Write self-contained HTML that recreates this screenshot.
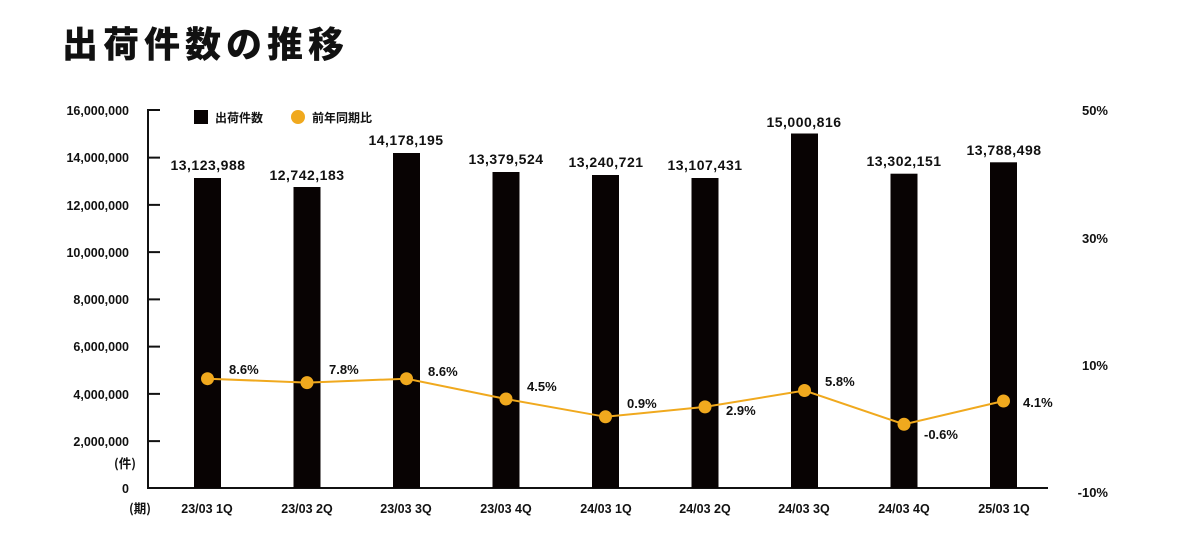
<!DOCTYPE html>
<html><head><meta charset="utf-8"><style>
body{margin:0;background:#fff;}
svg text{font-family:"Liberation Sans","Noto Sans CJK JP",sans-serif;font-weight:bold;fill:#111;}
</style></head><body>
<svg width="1200" height="532" viewBox="0 0 1200 532" xmlns="http://www.w3.org/2000/svg">
<text x="62" y="57" font-size="36" style="font-family:'Noto Sans CJK JP','Liberation Sans',sans-serif;font-weight:900" letter-spacing="5">出荷件数の推移</text>
<g font-size="12.5" text-anchor="end">
<text x="129" y="115">16,000,000</text>
<text x="129" y="162">14,000,000</text>
<text x="129" y="210">12,000,000</text>
<text x="129" y="257">10,000,000</text>
<text x="129" y="304">8,000,000</text>
<text x="129" y="351">6,000,000</text>
<text x="129" y="399">4,000,000</text>
<text x="129" y="446">2,000,000</text>
<text x="129" y="493">0</text>
<text x="136" y="468" style="font-family:'Noto Sans CJK JP',sans-serif">(件)</text>
<text x="151" y="513" style="font-family:'Noto Sans CJK JP',sans-serif">(期)</text>
</g>
<g font-size="13" text-anchor="end">
<text x="1108" y="115">50%</text>
<text x="1108" y="243">30%</text>
<text x="1108" y="370">10%</text>
<text x="1108" y="497">-10%</text>
</g>
<g stroke="#111" stroke-width="2" fill="none">
<path d="M160 110H148V488H1048"/>
<path d="M148 157.6H160M148 204.9H160M148 252.1H160M148 299.4H160M148 346.6H160M148 393.9H160M148 441.1H160"/>
</g>
<rect x="194" y="110" width="14" height="14" fill="#080303"/>
<text x="215" y="122" font-size="12" style="font-family:'Noto Sans CJK JP',sans-serif">出荷件数</text>
<circle cx="298" cy="117" r="7" fill="#f0a91e"/>
<text x="312" y="122" font-size="12" style="font-family:'Noto Sans CJK JP',sans-serif">前年同期比</text>
<g fill="#080303">
<rect x="194" y="178" width="27" height="310"/>
<rect x="293.5" y="187" width="27" height="301"/>
<rect x="393" y="153" width="27" height="335"/>
<rect x="492.5" y="172" width="27" height="316"/>
<rect x="592" y="175" width="27" height="313"/>
<rect x="691.5" y="178" width="27" height="310"/>
<rect x="791" y="133.5" width="27" height="354.5"/>
<rect x="890.5" y="173.7" width="27" height="314.3"/>
<rect x="990" y="162.3" width="27" height="325.7"/>
</g>
<g font-size="14" text-anchor="middle" letter-spacing="0.5">
<text x="208" y="170">13,123,988</text>
<text x="307" y="180">12,742,183</text>
<text x="406" y="145">14,178,195</text>
<text x="506" y="164">13,379,524</text>
<text x="606" y="167">13,240,721</text>
<text x="705" y="170">13,107,431</text>
<text x="804" y="127">15,000,816</text>
<text x="904" y="166">13,302,151</text>
<text x="1004" y="155">13,788,498</text>
</g>
<g font-size="12.5" text-anchor="middle">
<text x="207" y="513">23/03 1Q</text>
<text x="307" y="513">23/03 2Q</text>
<text x="406" y="513">23/03 3Q</text>
<text x="506" y="513">23/03 4Q</text>
<text x="606" y="513">24/03 1Q</text>
<text x="705" y="513">24/03 2Q</text>
<text x="804" y="513">24/03 3Q</text>
<text x="904" y="513">24/03 4Q</text>
<text x="1004" y="513">25/03 1Q</text>
</g>
<polyline fill="none" stroke="#f0a91e" stroke-width="2" points="207.5,378.7 307,382.6 406.5,378.7 506,399 605.5,416.8 705,406.9 804.5,390.5 904,424.3 1003.5,401"/>
<g fill="#f0a91e">
<circle cx="207.5" cy="378.7" r="6.5"/><circle cx="307" cy="382.6" r="6.5"/><circle cx="406.5" cy="378.7" r="6.5"/><circle cx="506" cy="399" r="6.5"/><circle cx="605.5" cy="416.8" r="6.5"/><circle cx="705" cy="406.9" r="6.5"/><circle cx="804.5" cy="390.5" r="6.5"/><circle cx="904" cy="424.3" r="6.5"/><circle cx="1003.5" cy="401" r="6.5"/>
</g>
<g font-size="13">
<text x="229" y="374">8.6%</text>
<text x="329" y="374">7.8%</text>
<text x="428" y="376">8.6%</text>
<text x="527" y="391">4.5%</text>
<text x="627" y="408">0.9%</text>
<text x="726" y="415">2.9%</text>
<text x="825" y="386">5.8%</text>
<text x="924" y="439">-0.6%</text>
<text x="1023" y="407">4.1%</text>
</g>
</svg>
</body></html>
